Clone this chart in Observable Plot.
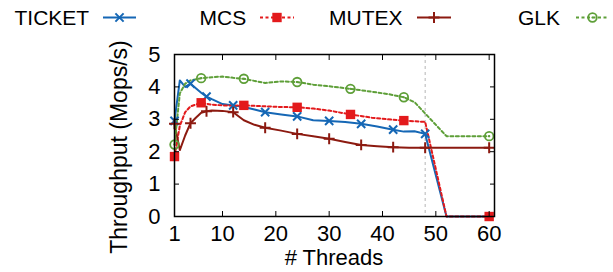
<!DOCTYPE html>
<html><head><meta charset="utf-8">
<script src="https://cdn.jsdelivr.net/npm/d3@7"></script>
<script src="https://cdn.jsdelivr.net/npm/@observablehq/plot@0.6"></script>
<style>
body{margin:0;background:#fff;}
#chart{position:relative;width:613px;height:272px;}
svg text{font-family:"Liberation Sans",Arial,Helvetica,sans-serif;}
</style>
</head><body><div id="chart"></div>
<script>
// ---- data ----
const xTicks = [1, 10, 20, 30, 40, 50, 60];
const yTicks = [0, 1, 2, 3, 4, 5];
const cutoff = 48;

const ticketThreads = [1,2,3,4,6,7,8,10,12,14,16,18,21,24,27,30,33,36,39,42,44,46,48,52,56,60];
const ticketValues  = [2.95,4.2,4.0,4.1,3.82,3.7,3.62,3.47,3.43,3.38,3.3,3.22,3.15,3.09,2.97,2.95,2.92,2.86,2.78,2.68,2.62,2.63,2.55,0,0,0];
const ticketMarks   = [1,4,7,12,18,24,30,36,42,48];

const mcsThreads = [1,2,3,4,6,8,10,12,14,18,21,24,27,30,34,38,41,44,48,52,56,60];
const mcsValues  = [1.85,2.8,3.22,3.4,3.51,3.45,3.43,3.42,3.43,3.4,3.38,3.37,3.33,3.27,3.15,3.05,3.0,2.96,2.92,0,0,0];
const mcsMarks   = [1,6,14,24,34,44,60];

const mutexThreads = [1,2,3,4,5,6,7,8,10,12,14,16,18,21,24,27,30,33,36,39,42,45,48,52,56,60];
const mutexValues  = [2.86,2.05,2.5,2.88,3.05,3.2,3.25,3.27,3.26,3.22,2.97,2.83,2.74,2.65,2.55,2.48,2.4,2.3,2.21,2.17,2.14,2.12,2.12,2.12,2.12,2.12];
const mutexMarks   = [1,4,7,12,18,24,30,36,42,48,60];

const glkThreads = [1,2,3,4,6,8,10,12,14,18,21,24,27,30,34,38,41,44,46,52,56,60];
const glkValues  = [2.22,3.8,4.1,4.2,4.27,4.3,4.32,4.28,4.25,4.12,4.17,4.15,4.07,4.02,3.94,3.85,3.78,3.68,3.53,2.48,2.48,2.48];
const glkMarks   = [1,6,14,24,34,44,60];

const series = [
  {name:"TICKET", threads:ticketThreads, values:ticketValues, marks:ticketMarks, color:"#1567b5", dash:null,  symbol:"times",  r:3.8, filled:false, sw:2},
  {name:"MCS",    threads:mcsThreads,    values:mcsValues,    marks:mcsMarks,    color:"#e31a1c", dash:"3,2.5", symbol:"square", r:5.3, filled:true,  sw:0},
  {name:"MUTEX",  threads:mutexThreads,  values:mutexValues,  marks:mutexMarks,  color:"#8c1a10", dash:null,  symbol:"plus",   r:3.6, filled:false, sw:2},
  {name:"GLK",    threads:glkThreads,    values:glkValues,    marks:glkMarks,    color:"#5e9f38", dash:"3,2.5", symbol:"circle", r:4.3, filled:false, sw:1.8}
];

function rows(s){ return s.threads.map((t,i)=>({name:s.name, t, v:s.values[i]})); }

const marks = [Plot.ruleX([cutoff], {stroke:"#b5b5b5", strokeWidth:1, strokeDasharray:"3,3"})];
for (const s of series) {
  marks.push(Plot.line(rows(s), {x:"t", y:"v", stroke:s.color, strokeWidth:2, strokeDasharray:s.dash}));
}
for (const s of series) {
  const pts = rows(s).filter(d => s.marks.includes(d.t));
  if (s.filled) marks.push(Plot.dot(pts, {x:"t", y:"v", symbol:s.symbol, r:s.r, fill:s.color, stroke:"none"}));
  else marks.push(Plot.dot(pts, {x:"t", y:"v", symbol:s.symbol, r:s.r, fill:"none", stroke:s.color, strokeWidth:s.sw}));
  if (s.symbol === "circle") marks.push(Plot.dot(pts, {x:"t", y:"v", r:1.1, fill:s.color, stroke:"none"}));
}
marks.push(
  Plot.frame({stroke:"#000", strokeWidth:1.5}),
  Plot.axisX(xTicks, {anchor:"bottom", tickSize:-5, tickPadding:14, fontSize:22, label:null}),
  Plot.axisX(xTicks, {anchor:"top", tickSize:-5, tickFormat:()=>"", label:null}),
  Plot.axisY(yTicks, {anchor:"left", tickSize:-5, tickPadding:19, fontSize:22, label:null}),
  Plot.axisY(yTicks, {anchor:"right", tickSize:-5, tickFormat:()=>"", label:null})
);

const chart = Plot.plot({
  width:613, height:272,
  marginLeft:174, marginRight:119, marginTop:54, marginBottom:56,
  style:{fontFamily:"Liberation Sans, Arial, sans-serif", color:"#000", background:"#fff"},
  x:{domain:[1,61], axis:null},
  y:{domain:[0,5], axis:null},
  marks
});
document.getElementById("chart").appendChild(chart);

// ---- titles and legend ----
const svg = d3.select(chart);
svg.append("text").text("# Threads")
  .attr("x", 334).attr("y", 265).attr("text-anchor","middle")
  .attr("font-size", 22).attr("fill","#000");
svg.append("text").text("Throughput (Mops/s)")
  .attr("transform","translate(127,147) rotate(-90)").attr("text-anchor","middle")
  .attr("font-size", 23).attr("fill","#000");

const legendPos = [
  {tx:14.5, l1:103, l2:136},
  {tx:199.5, l1:260, l2:294},
  {tx:329, l1:417, l2:451},
  {tx:518, l1:576, l2:609}
];
const symMap = {times:d3.symbolTimes, square:d3.symbolSquare, plus:d3.symbolPlus, circle:d3.symbolCircle};
series.forEach((s,i) => {
  const p = legendPos[i];
  const g = svg.append("g");
  g.append("text").text(s.name).attr("x", p.tx).attr("y", 25).attr("text-anchor","start")
    .attr("font-size", 21).attr("fill","#000");
  g.append("line").attr("x1", p.l1).attr("x2", p.l2).attr("y1", 17.5).attr("y2", 17.5)
    .attr("stroke", s.color).attr("stroke-width", 2).attr("stroke-dasharray", s.dash);
  const cx = (p.l1 + p.l2) / 2;
  const path = d3.symbol(symMap[s.symbol], Math.PI * s.r * s.r)();
  const sym = g.append("path").attr("d", path).attr("transform", `translate(${cx},17.5)`);
  if (s.filled) sym.attr("fill", s.color);
  else sym.attr("fill","none").attr("stroke", s.color).attr("stroke-width", s.sw);
  if (s.symbol === "circle") g.append("circle").attr("cx", cx).attr("cy", 17.5).attr("r", 1.1).attr("fill", s.color);
});
</script>
</body></html>
